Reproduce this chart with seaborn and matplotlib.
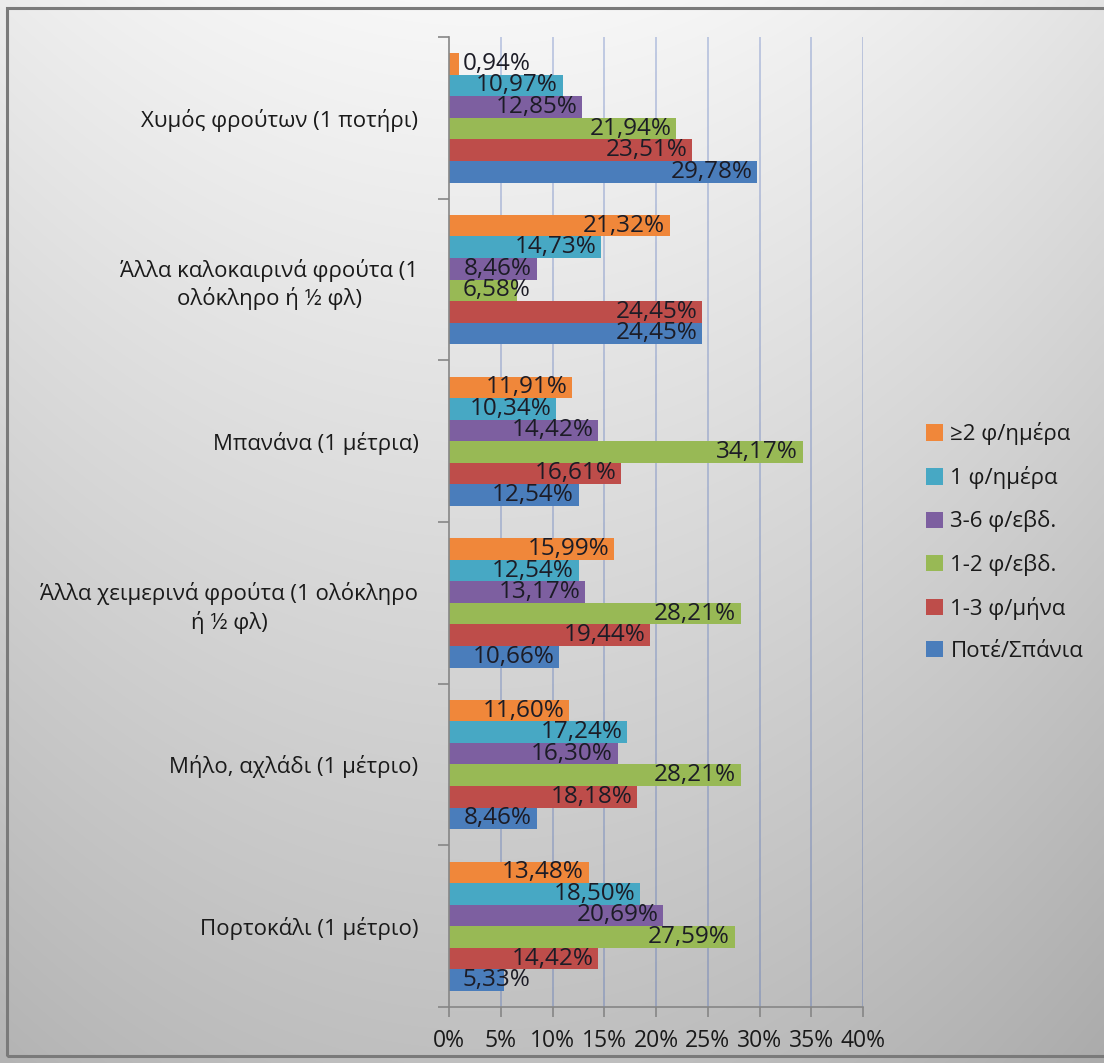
import numpy as np
import pandas as pd
import matplotlib
matplotlib.use("Agg")
import matplotlib.pyplot as plt
from matplotlib.patches import Rectangle
import seaborn as sns

# Fruit consumption frequency by fruit type (percent of respondents)
categories = [
    "Χυμός φρούτων (1 ποτήρι)",
    "Άλλα καλοκαιρινά φρούτα (1\nολόκληρο ή ½ φλ)",
    "Μπανάνα (1 μέτρια)",
    "Άλλα χειμερινά φρούτα (1 ολόκληρο\nή ½ φλ)",
    "Μήλο, αχλάδι (1 μέτριο)",
    "Πορτοκάλι (1 μέτριο)",
]
series_names = ["≥2 φ/ημέρα", "1 φ/ημέρα", "3-6 φ/εβδ.", "1-2 φ/εβδ.", "1-3 φ/μήνα", "Ποτέ/Σπάνια"]
ge2_per_day = [0.94, 21.32, 11.91, 15.99, 11.60, 13.48]
one_per_day = [10.97, 14.73, 10.34, 12.54, 17.24, 18.50]
three_six_per_week = [12.85, 8.46, 14.42, 13.17, 16.30, 20.69]
one_two_per_week = [21.94, 6.58, 34.17, 28.21, 28.21, 27.59]
one_three_per_month = [23.51, 24.45, 16.61, 19.44, 18.18, 14.42]
never_rarely = [29.78, 24.45, 12.54, 10.66, 8.46, 5.33]
x_ticks = [0, 5, 10, 15, 20, 25, 30, 35, 40]

series_values = [ge2_per_day, one_per_day, three_six_per_week,
                 one_two_per_week, one_three_per_month, never_rarely]
colors = ["#F0873A", "#47A8C4", "#7D5FA0", "#98B955", "#BE4D4A", "#4A7DBB"]

df = pd.DataFrame(
    [(c, s, v) for s, vals in zip(series_names, series_values) for c, v in zip(categories, vals)],
    columns=["category", "series", "value"],
)

sns.set_theme(style="white")
plt.rcParams["font.family"] = ["Open Sans", "DejaVu Sans"]

W, H = 1104, 1063
fig = plt.figure(figsize=(W / 100, H / 100), dpi=100)

# soft grey backdrop, lighter toward the top
bg_ax = fig.add_axes([0, 0, 1, 1], zorder=-5)
yy, xx = np.mgrid[0:H, 0:W]
shade = 0.97 - 0.22 * (yy / H) - 0.25 * ((xx - 480) / W) ** 2
bg_ax.imshow(np.dstack([shade] * 3), aspect="auto", extent=[0, 1, 0, 1], origin="upper")
bg_ax.set_axis_off()
fig.patches.append(Rectangle((7 / W, 1 - 1056 / H), 1.2, (1056 - 8) / H, transform=fig.transFigure,
                             fill=False, edgecolor="#7a7a7a", linewidth=2.2, zorder=-4))

ax = fig.add_axes([449 / W, 1 - 1007 / H, (863 - 449) / W, (1007 - 37) / H])
ax.set_facecolor("none")

sns.barplot(data=df, y="category", x="value", hue="series", order=categories,
            hue_order=series_names, palette=colors, orient="h", width=0.8,
            saturation=1, edgecolor="none", linewidth=0, errorbar=None, ax=ax, zorder=3)

ax.set_xlim(0, 40)
ax.set_ylim(len(categories) - 0.5, -0.5)
ax.set_xticks(x_ticks)
ax.set_xticklabels([f"{t}%" for t in x_ticks], fontsize=16.5, color="#1a1a1a")
ax.set_xlabel("")
ax.set_ylabel("")

# category boundaries carry the tick marks
ax.set_yticks(range(len(categories)))
ax.set_yticklabels(categories, fontsize=16, color="#1a1a1a", multialignment="center",
                   linespacing=1.3)
ax.set_yticks(np.arange(-0.5, len(categories), 1), minor=True)
ax.tick_params(axis="y", which="major", length=0, pad=22)
ax.tick_params(axis="y", which="minor", length=8, width=1.2, color="#868686", direction="out", left=True)
ax.tick_params(axis="x", which="major", length=7, width=1.2, color="#868686", direction="out",
               bottom=True, pad=9)

for t in x_ticks[1:]:
    ax.axvline(t, color="#2a50b0", alpha=0.28, lw=1.3, zorder=1)

for side in ["top", "right"]:
    ax.spines[side].set_visible(False)
for side in ["left", "bottom"]:
    ax.spines[side].set_color("#868686")
    ax.spines[side].set_linewidth(1.2)
    ax.spines[side].set_zorder(4)

# value labels: inside the bar end, or from the base when the bar is too short
for container, vals in zip(ax.containers, series_values):
    for bar, v in zip(container, vals):
        yc = bar.get_y() + bar.get_height() / 2
        txt = f"{v:.2f}%".replace(".", ",")
        if v >= 8.0:
            ax.text(v - 0.45, yc, txt, ha="right", va="center", fontsize=17.5,
                    color="#1c1c26", zorder=5)
        else:
            ax.text(1.3, yc, txt, ha="left", va="center", fontsize=17.5,
                    color="#1c1c26", zorder=5)

handles, labels = ax.get_legend_handles_labels()
ax.legend(handles, labels, loc="center left", bbox_to_anchor=(926 / W, 1 - 542 / H),
          bbox_transform=fig.transFigure, frameon=False, fontsize=16,
          handlelength=0.75, handleheight=0.75, handletextpad=0.35,
          labelspacing=0.95, borderpad=0, borderaxespad=0, labelcolor="#1a1a1a")

fig.savefig("out.png", dpi=100)
